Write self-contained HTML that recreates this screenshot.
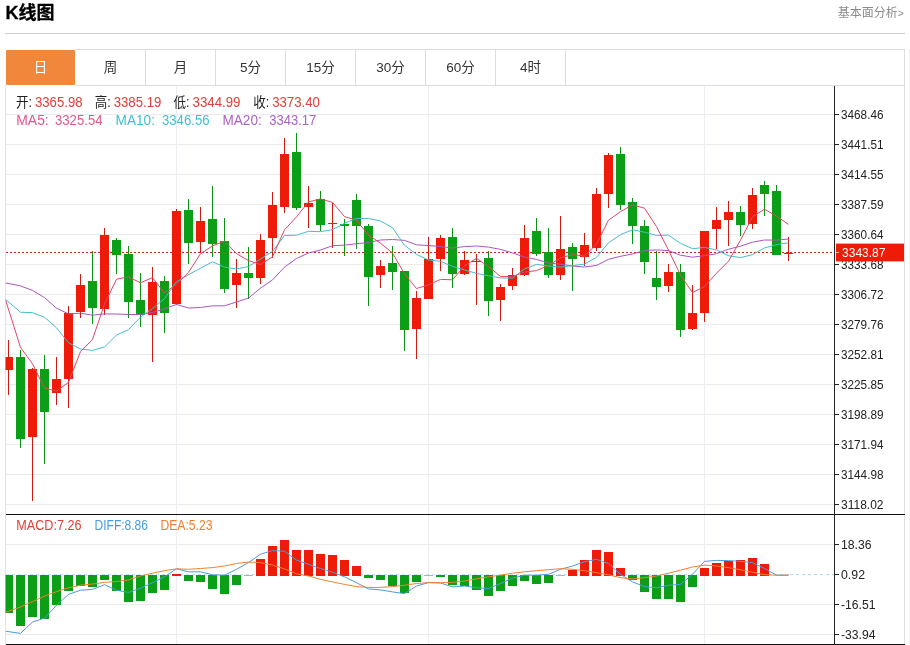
<!DOCTYPE html>
<html lang="zh-CN">
<head>
<meta charset="utf-8">
<title>K线图</title>
<style>
html,body{margin:0;padding:0;background:#fff;}
body{width:910px;height:645px;position:relative;overflow:hidden;font-family:"Liberation Sans","Noto Sans CJK SC",sans-serif;}
.title{position:absolute;left:5.5px;top:0;height:26px;line-height:26px;font-size:18px;font-weight:bold;color:#000;white-space:nowrap;-webkit-text-stroke:0.3px #000;}
.more{position:absolute;right:6px;top:3.5px;height:18px;line-height:18px;font-size:12px;color:#8c8c8c;white-space:nowrap;text-decoration:none;}
.more span{font-size:10.5px;}
.rule{position:absolute;left:5px;top:33px;width:900px;height:1px;background:#cfcfcf;}
.tabs{position:absolute;left:5px;top:49px;width:898px;height:35px;border:1px solid #ddd;margin:0;padding:0;list-style:none;}
.tabs li{float:left;width:69px;height:35px;line-height:36.5px;border-right:1px solid #ddd;text-align:center;font-size:13.5px;color:#333;}
.tabs li.on{background:#f0873a;color:#fff;width:69px;height:35px;line-height:36.5px;margin-right:1px;border-right:0;border-radius:1px;box-shadow:0 0 0 1px #fff;}
.chart{position:absolute;left:0;top:0;}
.chart text{font-family:"Liberation Sans","Noto Sans CJK SC",sans-serif;}
.chart .ax text{font-size:12px;fill:#222;}
.chart .tag{font-size:12.5px;fill:#fff;}
.chart .lg{font-size:14px;}
</style>
</head>
<body>
<div class="title">K线图</div>
<a class="more">基本面分析<span>&gt;</span></a>
<div class="rule"></div>
<ul class="tabs">
<li class="on">日</li><li>周</li><li>月</li><li>5分</li><li>15分</li><li>30分</li><li>60分</li><li>4时</li>
</ul>
<svg class="chart" width="910" height="645" viewBox="0 0 910 645">
<defs><clipPath id="cp"><rect x="5.5" y="86" width="829" height="558"/></clipPath></defs>
<g shape-rendering="crispEdges">
<rect x="5" y="86" width="1" height="559" fill="#e2e2e2"/>
<rect x="904" y="86" width="1" height="559" fill="#e0e0e0"/>
<rect x="909" y="49" width="1" height="596" fill="#f4f4f4"/>
<rect x="6" y="114" width="828" height="1" fill="#ebebeb"/>
<rect x="6" y="144" width="828" height="1" fill="#ebebeb"/>
<rect x="6" y="174" width="828" height="1" fill="#ebebeb"/>
<rect x="6" y="204" width="828" height="1" fill="#ebebeb"/>
<rect x="6" y="234" width="828" height="1" fill="#ebebeb"/>
<rect x="6" y="264" width="828" height="1" fill="#ebebeb"/>
<rect x="6" y="294" width="828" height="1" fill="#ebebeb"/>
<rect x="6" y="324" width="828" height="1" fill="#ebebeb"/>
<rect x="6" y="354" width="828" height="1" fill="#ebebeb"/>
<rect x="6" y="384" width="828" height="1" fill="#ebebeb"/>
<rect x="6" y="414" width="828" height="1" fill="#ebebeb"/>
<rect x="6" y="444" width="828" height="1" fill="#ebebeb"/>
<rect x="6" y="474" width="828" height="1" fill="#ebebeb"/>
<rect x="6" y="504" width="828" height="1" fill="#ebebeb"/>
<rect x="6" y="544" width="828" height="1" fill="#ebebeb"/>
<rect x="6" y="604" width="828" height="1" fill="#ebebeb"/>
<rect x="6" y="634" width="828" height="1" fill="#ebebeb"/>
<rect x="176" y="86" width="1" height="558" fill="#eaedf2"/>
<rect x="428" y="86" width="1" height="558" fill="#eaedf2"/>
<rect x="704" y="86" width="1" height="558" fill="#eaedf2"/>
</g>
<line x1="6" y1="252.5" x2="834" y2="252.5" stroke="#e0201a" stroke-width="1" stroke-dasharray="2 2"/>
<g clip-path="url(#cp)" shape-rendering="crispEdges">
<rect x="8" y="340" width="1" height="55" fill="#cf1a12"/>
<rect x="4" y="357" width="9" height="13" fill="#ee1b09"/>
<rect x="20" y="350" width="1" height="98" fill="#0a9216"/>
<rect x="16" y="357" width="9" height="82" fill="#0a9f17"/>
<rect x="32" y="368" width="1" height="133" fill="#cf1a12"/>
<rect x="28" y="369" width="9" height="68" fill="#ee1b09"/>
<rect x="44" y="355" width="1" height="109" fill="#0a9216"/>
<rect x="40" y="369" width="9" height="43" fill="#0a9f17"/>
<rect x="56" y="357" width="1" height="48" fill="#cf1a12"/>
<rect x="52" y="379" width="9" height="14" fill="#ee1b09"/>
<rect x="68" y="306" width="1" height="102" fill="#cf1a12"/>
<rect x="64" y="313" width="9" height="66" fill="#ee1b09"/>
<rect x="80" y="274" width="1" height="44" fill="#cf1a12"/>
<rect x="76" y="285" width="9" height="27" fill="#ee1b09"/>
<rect x="92" y="251" width="1" height="73" fill="#0a9216"/>
<rect x="88" y="281" width="9" height="27" fill="#0a9f17"/>
<rect x="104" y="228" width="1" height="87" fill="#cf1a12"/>
<rect x="100" y="235" width="9" height="74" fill="#ee1b09"/>
<rect x="116" y="238" width="1" height="36" fill="#0a9216"/>
<rect x="112" y="240" width="9" height="15" fill="#0a9f17"/>
<rect x="128" y="246" width="1" height="72" fill="#0a9216"/>
<rect x="124" y="254" width="9" height="48" fill="#0a9f17"/>
<rect x="140" y="273" width="1" height="54" fill="#0a9216"/>
<rect x="136" y="300" width="9" height="15" fill="#0a9f17"/>
<rect x="152" y="267" width="1" height="95" fill="#cf1a12"/>
<rect x="148" y="282" width="9" height="33" fill="#ee1b09"/>
<rect x="164" y="276" width="1" height="57" fill="#0a9216"/>
<rect x="160" y="281" width="9" height="32" fill="#0a9f17"/>
<rect x="176" y="209" width="1" height="96" fill="#cf1a12"/>
<rect x="172" y="211" width="9" height="93" fill="#ee1b09"/>
<rect x="188" y="199" width="1" height="65" fill="#0a9216"/>
<rect x="184" y="210" width="9" height="33" fill="#0a9f17"/>
<rect x="200" y="207" width="1" height="46" fill="#cf1a12"/>
<rect x="196" y="221" width="9" height="21" fill="#ee1b09"/>
<rect x="212" y="186" width="1" height="71" fill="#0a9216"/>
<rect x="208" y="219" width="9" height="25" fill="#0a9f17"/>
<rect x="224" y="218" width="1" height="75" fill="#0a9216"/>
<rect x="220" y="241" width="9" height="48" fill="#0a9f17"/>
<rect x="236" y="259" width="1" height="49" fill="#cf1a12"/>
<rect x="232" y="273" width="9" height="12" fill="#ee1b09"/>
<rect x="248" y="247" width="1" height="52" fill="#0a9216"/>
<rect x="244" y="273" width="9" height="5" fill="#0a9f17"/>
<rect x="260" y="234" width="1" height="50" fill="#cf1a12"/>
<rect x="256" y="240" width="9" height="38" fill="#ee1b09"/>
<rect x="272" y="192" width="1" height="66" fill="#cf1a12"/>
<rect x="268" y="205" width="9" height="33" fill="#ee1b09"/>
<rect x="284" y="138" width="1" height="75" fill="#cf1a12"/>
<rect x="280" y="154" width="9" height="53" fill="#ee1b09"/>
<rect x="296" y="133" width="1" height="77" fill="#0a9216"/>
<rect x="292" y="152" width="9" height="56" fill="#0a9f17"/>
<rect x="308" y="186" width="1" height="42" fill="#cf1a12"/>
<rect x="304" y="203" width="9" height="4" fill="#ee1b09"/>
<rect x="320" y="191" width="1" height="40" fill="#0a9216"/>
<rect x="316" y="199" width="9" height="26" fill="#0a9f17"/>
<rect x="332" y="203" width="1" height="45" fill="#cf1a12"/>
<rect x="328" y="223" width="9" height="1" fill="#ee1b09"/>
<rect x="344" y="219" width="1" height="37" fill="#0a9216"/>
<rect x="340" y="224" width="9" height="2" fill="#0a9f17"/>
<rect x="356" y="194" width="1" height="55" fill="#0a9216"/>
<rect x="352" y="200" width="9" height="26" fill="#0a9f17"/>
<rect x="368" y="224" width="1" height="82" fill="#0a9216"/>
<rect x="364" y="226" width="9" height="51" fill="#0a9f17"/>
<rect x="380" y="260" width="1" height="28" fill="#cf1a12"/>
<rect x="376" y="266" width="9" height="9" fill="#ee1b09"/>
<rect x="392" y="246" width="1" height="44" fill="#0a9216"/>
<rect x="388" y="263" width="9" height="9" fill="#0a9f17"/>
<rect x="404" y="271" width="1" height="80" fill="#0a9216"/>
<rect x="400" y="271" width="9" height="59" fill="#0a9f17"/>
<rect x="416" y="291" width="1" height="68" fill="#cf1a12"/>
<rect x="412" y="298" width="9" height="31" fill="#ee1b09"/>
<rect x="428" y="237" width="1" height="62" fill="#cf1a12"/>
<rect x="424" y="259" width="9" height="40" fill="#ee1b09"/>
<rect x="440" y="235" width="1" height="36" fill="#cf1a12"/>
<rect x="436" y="238" width="9" height="21" fill="#ee1b09"/>
<rect x="452" y="228" width="1" height="60" fill="#0a9216"/>
<rect x="448" y="237" width="9" height="37" fill="#0a9f17"/>
<rect x="464" y="251" width="1" height="24" fill="#cf1a12"/>
<rect x="460" y="260" width="9" height="14" fill="#ee1b09"/>
<rect x="476" y="254" width="1" height="51" fill="#cf1a12"/>
<rect x="472" y="261" width="9" height="1" fill="#ee1b09"/>
<rect x="488" y="251" width="1" height="65" fill="#0a9216"/>
<rect x="484" y="258" width="9" height="43" fill="#0a9f17"/>
<rect x="500" y="284" width="1" height="37" fill="#cf1a12"/>
<rect x="496" y="287" width="9" height="13" fill="#ee1b09"/>
<rect x="512" y="268" width="1" height="22" fill="#cf1a12"/>
<rect x="508" y="275" width="9" height="11" fill="#ee1b09"/>
<rect x="524" y="225" width="1" height="51" fill="#cf1a12"/>
<rect x="520" y="238" width="9" height="37" fill="#ee1b09"/>
<rect x="536" y="218" width="1" height="38" fill="#0a9216"/>
<rect x="532" y="231" width="9" height="23" fill="#0a9f17"/>
<rect x="548" y="228" width="1" height="50" fill="#0a9216"/>
<rect x="544" y="252" width="9" height="23" fill="#0a9f17"/>
<rect x="560" y="216" width="1" height="64" fill="#cf1a12"/>
<rect x="556" y="249" width="9" height="26" fill="#ee1b09"/>
<rect x="572" y="243" width="1" height="48" fill="#0a9216"/>
<rect x="568" y="247" width="9" height="12" fill="#0a9f17"/>
<rect x="584" y="233" width="1" height="33" fill="#cf1a12"/>
<rect x="580" y="245" width="9" height="12" fill="#ee1b09"/>
<rect x="596" y="188" width="1" height="63" fill="#cf1a12"/>
<rect x="592" y="194" width="9" height="54" fill="#ee1b09"/>
<rect x="608" y="153" width="1" height="55" fill="#cf1a12"/>
<rect x="604" y="155" width="9" height="39" fill="#ee1b09"/>
<rect x="620" y="147" width="1" height="63" fill="#0a9216"/>
<rect x="616" y="154" width="9" height="51" fill="#0a9f17"/>
<rect x="632" y="198" width="1" height="46" fill="#0a9216"/>
<rect x="628" y="202" width="9" height="24" fill="#0a9f17"/>
<rect x="644" y="220" width="1" height="54" fill="#0a9216"/>
<rect x="640" y="226" width="9" height="36" fill="#0a9f17"/>
<rect x="656" y="251" width="1" height="49" fill="#0a9216"/>
<rect x="652" y="278" width="9" height="9" fill="#0a9f17"/>
<rect x="668" y="264" width="1" height="28" fill="#cf1a12"/>
<rect x="664" y="272" width="9" height="14" fill="#ee1b09"/>
<rect x="680" y="264" width="1" height="73" fill="#0a9216"/>
<rect x="676" y="272" width="9" height="58" fill="#0a9f17"/>
<rect x="692" y="285" width="1" height="45" fill="#cf1a12"/>
<rect x="688" y="313" width="9" height="16" fill="#ee1b09"/>
<rect x="704" y="231" width="1" height="91" fill="#cf1a12"/>
<rect x="700" y="231" width="9" height="82" fill="#ee1b09"/>
<rect x="716" y="207" width="1" height="42" fill="#cf1a12"/>
<rect x="712" y="220" width="9" height="9" fill="#ee1b09"/>
<rect x="728" y="201" width="1" height="45" fill="#cf1a12"/>
<rect x="724" y="212" width="9" height="8" fill="#ee1b09"/>
<rect x="740" y="206" width="1" height="30" fill="#0a9216"/>
<rect x="736" y="212" width="9" height="13" fill="#0a9f17"/>
<rect x="752" y="188" width="1" height="41" fill="#cf1a12"/>
<rect x="748" y="195" width="9" height="29" fill="#ee1b09"/>
<rect x="764" y="181" width="1" height="35" fill="#0a9216"/>
<rect x="760" y="185" width="9" height="9" fill="#0a9f17"/>
<rect x="776" y="185" width="1" height="70" fill="#0a9216"/>
<rect x="772" y="191" width="9" height="64" fill="#0a9f17"/>
<rect x="788" y="237" width="1" height="24" fill="#cf1a12"/>
<rect x="784" y="253" width="9" height="1" fill="#ee1b09"/>
</g>
<line x1="6" y1="574.6" x2="789" y2="574.6" stroke="#a9d8ea" stroke-width="1" stroke-dasharray="3 3" opacity="0.7"/>
<line x1="790" y1="574.6" x2="834" y2="574.6" stroke="#a9d8ea" stroke-width="1" stroke-dasharray="3 3"/>
<g clip-path="url(#cp)" shape-rendering="crispEdges">
<rect x="4" y="575" width="9" height="38" fill="#0a9f17"/>
<rect x="16" y="575" width="9" height="51" fill="#0a9f17"/>
<rect x="28" y="575" width="9" height="42" fill="#0a9f17"/>
<rect x="40" y="575" width="9" height="44" fill="#0a9f17"/>
<rect x="52" y="575" width="9" height="30" fill="#0a9f17"/>
<rect x="64" y="575" width="9" height="16" fill="#0a9f17"/>
<rect x="76" y="575" width="9" height="11" fill="#0a9f17"/>
<rect x="88" y="575" width="9" height="12" fill="#0a9f17"/>
<rect x="100" y="575" width="9" height="5" fill="#0a9f17"/>
<rect x="112" y="575" width="9" height="16" fill="#0a9f17"/>
<rect x="124" y="575" width="9" height="27" fill="#0a9f17"/>
<rect x="136" y="575" width="9" height="26" fill="#0a9f17"/>
<rect x="148" y="575" width="9" height="18" fill="#0a9f17"/>
<rect x="160" y="575" width="9" height="15" fill="#0a9f17"/>
<rect x="172" y="574" width="9" height="2" fill="#ee1b09"/>
<rect x="184" y="575" width="9" height="6" fill="#0a9f17"/>
<rect x="196" y="575" width="9" height="7" fill="#0a9f17"/>
<rect x="208" y="575" width="9" height="14" fill="#0a9f17"/>
<rect x="220" y="575" width="9" height="19" fill="#0a9f17"/>
<rect x="232" y="575" width="9" height="10" fill="#0a9f17"/>
<rect x="244" y="575" width="9" height="1" fill="#9a9a9a" opacity="0.75"/>
<rect x="256" y="559" width="9" height="17" fill="#ee1b09"/>
<rect x="268" y="546" width="9" height="30" fill="#ee1b09"/>
<rect x="280" y="540" width="9" height="36" fill="#ee1b09"/>
<rect x="292" y="550" width="9" height="26" fill="#ee1b09"/>
<rect x="304" y="550" width="9" height="26" fill="#ee1b09"/>
<rect x="316" y="554" width="9" height="22" fill="#ee1b09"/>
<rect x="328" y="555" width="9" height="21" fill="#ee1b09"/>
<rect x="340" y="560" width="9" height="16" fill="#ee1b09"/>
<rect x="352" y="566" width="9" height="10" fill="#ee1b09"/>
<rect x="364" y="575" width="9" height="3" fill="#0a9f17"/>
<rect x="376" y="575" width="9" height="5" fill="#0a9f17"/>
<rect x="388" y="575" width="9" height="11" fill="#0a9f17"/>
<rect x="400" y="575" width="9" height="18" fill="#0a9f17"/>
<rect x="412" y="575" width="9" height="7" fill="#0a9f17"/>
<rect x="424" y="575" width="9" height="1" fill="#9a9a9a" opacity="0.75"/>
<rect x="436" y="575" width="9" height="2" fill="#0a9f17"/>
<rect x="448" y="575" width="9" height="10" fill="#0a9f17"/>
<rect x="460" y="575" width="9" height="11" fill="#0a9f17"/>
<rect x="472" y="575" width="9" height="15" fill="#0a9f17"/>
<rect x="484" y="575" width="9" height="21" fill="#0a9f17"/>
<rect x="496" y="575" width="9" height="16" fill="#0a9f17"/>
<rect x="508" y="575" width="9" height="11" fill="#0a9f17"/>
<rect x="520" y="575" width="9" height="6" fill="#0a9f17"/>
<rect x="532" y="575" width="9" height="9" fill="#0a9f17"/>
<rect x="544" y="575" width="9" height="8" fill="#0a9f17"/>
<rect x="556" y="575" width="9" height="1" fill="#9a9a9a" opacity="0.75"/>
<rect x="568" y="570" width="9" height="6" fill="#ee1b09"/>
<rect x="580" y="560" width="9" height="16" fill="#ee1b09"/>
<rect x="592" y="550" width="9" height="26" fill="#ee1b09"/>
<rect x="604" y="552" width="9" height="24" fill="#ee1b09"/>
<rect x="616" y="568" width="9" height="8" fill="#ee1b09"/>
<rect x="628" y="575" width="9" height="5" fill="#0a9f17"/>
<rect x="640" y="575" width="9" height="17" fill="#0a9f17"/>
<rect x="652" y="575" width="9" height="24" fill="#0a9f17"/>
<rect x="664" y="575" width="9" height="24" fill="#0a9f17"/>
<rect x="676" y="575" width="9" height="27" fill="#0a9f17"/>
<rect x="688" y="575" width="9" height="12" fill="#0a9f17"/>
<rect x="700" y="568" width="9" height="8" fill="#ee1b09"/>
<rect x="712" y="563" width="9" height="13" fill="#ee1b09"/>
<rect x="724" y="561" width="9" height="15" fill="#ee1b09"/>
<rect x="736" y="560" width="9" height="16" fill="#ee1b09"/>
<rect x="748" y="558" width="9" height="18" fill="#ee1b09"/>
<rect x="760" y="564" width="9" height="12" fill="#ee1b09"/>
</g>
<g clip-path="url(#cp)">
<polyline points="5.5,282.9 20.5,285.9 32.5,290.4 44.5,297.6 56.5,308.2 68.5,313.9 80.5,313.2 92.5,315.2 104.5,313.9 116.5,314.0 128.5,314.5 140.5,314.5 152.5,312.5 164.5,308.8 176.5,304.5 188.5,308.0 200.5,307.5 212.5,305.8 224.5,305.8 236.5,302.0 248.5,298.1 260.5,288.1 272.5,279.9 284.5,267.1 296.5,258.5 308.5,253.0 320.5,250.0 332.5,245.7 344.5,245.2 356.5,243.7 368.5,242.5 380.5,240.0 392.5,239.5 404.5,240.4 416.5,244.8 428.5,245.6 440.5,246.5 452.5,248.0 464.5,246.6 476.5,246.0 488.5,247.1 500.5,249.4 512.5,252.9 524.5,257.1 536.5,259.4 548.5,263.0 560.5,264.2 572.5,266.0 584.5,267.0 596.5,265.4 608.5,259.3 620.5,256.3 632.5,254.0 644.5,250.5 656.5,249.9 668.5,250.6 680.5,255.2 692.5,257.2 704.5,255.7 716.5,253.7 728.5,249.2 740.5,246.2 752.5,242.2 764.5,240.0 776.5,240.1 788.5,239.0" fill="none" stroke="#ab55c0" stroke-width="1" stroke-linejoin="round" />
<polyline points="5.5,299.3 20.5,312.2 32.5,312.7 44.5,317.2 56.5,327.8 68.5,342.8 80.5,349.0 92.5,350.4 104.5,347.0 116.5,335.1 128.5,329.6 140.5,317.2 152.5,308.5 164.5,298.6 176.5,281.7 188.5,274.7 200.5,268.2 212.5,261.8 224.5,267.1 236.5,268.9 248.5,266.5 260.5,259.1 272.5,251.4 284.5,235.5 296.5,235.2 308.5,231.3 320.5,231.7 332.5,229.6 344.5,223.3 356.5,218.5 368.5,218.4 380.5,221.0 392.5,227.7 404.5,245.3 416.5,254.4 428.5,260.0 440.5,261.3 452.5,266.4 464.5,269.9 476.5,273.4 488.5,275.8 500.5,277.9 512.5,278.2 524.5,268.9 536.5,264.4 548.5,266.0 560.5,267.1 572.5,265.6 584.5,264.1 596.5,257.4 608.5,242.8 620.5,234.7 632.5,229.8 644.5,232.2 656.5,235.4 668.5,235.2 680.5,243.3 692.5,248.7 704.5,247.4 716.5,250.0 728.5,255.7 740.5,257.7 752.5,254.6 764.5,247.9 776.5,244.7 788.5,242.8" fill="none" stroke="#45bccb" stroke-width="1" stroke-linejoin="round" />
<polyline points="5.5,299.8 20.5,347.4 32.5,363.8 44.5,388.0 56.5,391.1 68.5,382.3 80.5,351.6 92.5,339.4 104.5,304.1 116.5,279.2 128.5,276.9 140.5,282.8 152.5,277.6 164.5,293.1 176.5,284.2 188.5,272.4 200.5,253.7 212.5,245.9 224.5,241.1 236.5,253.6 248.5,260.6 260.5,264.5 272.5,256.8 284.5,229.9 296.5,216.8 308.5,201.9 320.5,198.9 332.5,202.4 344.5,216.6 356.5,220.3 368.5,235.0 380.5,243.2 392.5,253.0 404.5,273.9 416.5,288.5 428.5,284.9 440.5,279.4 452.5,279.8 464.5,265.8 476.5,258.3 488.5,266.6 500.5,276.4 512.5,276.6 524.5,272.1 536.5,270.6 548.5,265.4 560.5,257.9 572.5,254.6 584.5,256.1 596.5,244.2 608.5,220.2 620.5,211.6 632.5,204.9 644.5,208.2 656.5,226.7 668.5,250.1 680.5,275.1 692.5,292.6 704.5,286.5 716.5,273.2 728.5,261.2 740.5,240.2 752.5,216.7 764.5,209.2 776.5,216.2 788.5,224.4" fill="none" stroke="#de4769" stroke-width="1" stroke-linejoin="round" />
<polyline points="5.5,631.2 20.5,633.4 32.5,622.0 44.5,618.2 56.5,605.3 68.5,594.4 80.5,590.2 92.5,589.4 104.5,584.7 116.5,590.2 128.5,592.4 140.5,588.2 152.5,582.7 164.5,576.8 176.5,568.8 188.5,571.8 200.5,571.8 212.5,574.8 224.5,575.2 236.5,569.3 248.5,562.6 260.5,554.2 272.5,550.6 284.5,551.2 296.5,560.1 308.5,564.3 320.5,568.5 332.5,572.2 344.5,576.8 356.5,582.7 368.5,588.9 380.5,589.9 392.5,591.9 404.5,593.6 416.5,586.0 428.5,582.6 440.5,583.0 452.5,586.9 464.5,586.0 476.5,587.7 488.5,588.6 500.5,583.5 512.5,578.2 524.5,575.2 536.5,575.2 548.5,574.3 560.5,569.3 572.5,566.0 584.5,561.8 596.5,559.3 608.5,563.5 620.5,574.3 632.5,581.9 644.5,586.6 656.5,587.7 668.5,585.2 680.5,584.4 692.5,574.3 704.5,561.4 716.5,560.4 728.5,560.6 740.5,561.3 752.5,562.6 764.5,568.5 776.5,575.2 788.5,575.2" fill="none" stroke="#4a9be0" stroke-width="1" stroke-linejoin="round" />
<polyline points="5.5,612.3 20.5,607.0 32.5,601.6 44.5,596.1 56.5,591.6 68.5,587.9 80.5,585.2 92.5,584.0 104.5,582.4 116.5,581.5 128.5,579.9 140.5,576.0 152.5,573.2 164.5,570.7 176.5,568.8 188.5,569.3 200.5,568.5 212.5,567.6 224.5,566.0 236.5,563.5 248.5,562.1 260.5,562.6 272.5,565.1 284.5,568.9 296.5,573.8 308.5,576.0 320.5,579.4 332.5,581.9 344.5,584.4 356.5,586.6 368.5,587.4 380.5,587.4 392.5,586.6 404.5,585.2 416.5,583.5 428.5,582.6 440.5,582.7 452.5,582.4 464.5,581.0 476.5,578.9 488.5,576.8 500.5,575.2 512.5,573.2 524.5,571.8 536.5,570.7 548.5,569.7 560.5,568.7 572.5,569.3 584.5,570.7 596.5,572.7 608.5,574.8 620.5,577.7 632.5,578.9 644.5,577.7 656.5,576.0 668.5,573.2 680.5,570.2 692.5,567.0 704.5,565.1 716.5,566.0 728.5,567.6 740.5,569.8 752.5,572.2 764.5,574.7 776.5,575.2 788.5,575.2" fill="none" stroke="#f08030" stroke-width="1" stroke-linejoin="round" />
</g>
<g shape-rendering="crispEdges">
<rect x="6" y="514" width="899" height="1" fill="#111"/>
<rect x="6" y="644" width="899" height="1" fill="#111"/>
<rect x="834" y="86" width="1" height="559" fill="#222"/>
<rect x="835" y="114" width="4" height="1" fill="#222"/>
<rect x="835" y="144" width="4" height="1" fill="#222"/>
<rect x="835" y="174" width="4" height="1" fill="#222"/>
<rect x="835" y="204" width="4" height="1" fill="#222"/>
<rect x="835" y="234" width="4" height="1" fill="#222"/>
<rect x="835" y="264" width="4" height="1" fill="#222"/>
<rect x="835" y="294" width="4" height="1" fill="#222"/>
<rect x="835" y="324" width="4" height="1" fill="#222"/>
<rect x="835" y="354" width="4" height="1" fill="#222"/>
<rect x="835" y="384" width="4" height="1" fill="#222"/>
<rect x="835" y="414" width="4" height="1" fill="#222"/>
<rect x="835" y="444" width="4" height="1" fill="#222"/>
<rect x="835" y="474" width="4" height="1" fill="#222"/>
<rect x="835" y="504" width="4" height="1" fill="#222"/>
<rect x="835" y="544" width="4" height="1" fill="#222"/>
<rect x="835" y="574" width="4" height="1" fill="#222"/>
<rect x="835" y="604" width="4" height="1" fill="#222"/>
<rect x="835" y="634" width="4" height="1" fill="#222"/>
</g>
<g class="ax">
<text x="841" y="118.8" textLength="42.5" lengthAdjust="spacingAndGlyphs">3468.46</text>
<text x="841" y="148.8" textLength="42.5" lengthAdjust="spacingAndGlyphs">3441.51</text>
<text x="841" y="178.8" textLength="42.5" lengthAdjust="spacingAndGlyphs">3414.55</text>
<text x="841" y="208.8" textLength="42.5" lengthAdjust="spacingAndGlyphs">3387.59</text>
<text x="841" y="238.8" textLength="42.5" lengthAdjust="spacingAndGlyphs">3360.64</text>
<text x="841" y="268.8" textLength="42.5" lengthAdjust="spacingAndGlyphs">3333.68</text>
<text x="841" y="298.8" textLength="42.5" lengthAdjust="spacingAndGlyphs">3306.72</text>
<text x="841" y="328.8" textLength="42.5" lengthAdjust="spacingAndGlyphs">3279.76</text>
<text x="841" y="358.8" textLength="42.5" lengthAdjust="spacingAndGlyphs">3252.81</text>
<text x="841" y="388.8" textLength="42.5" lengthAdjust="spacingAndGlyphs">3225.85</text>
<text x="841" y="418.8" textLength="42.5" lengthAdjust="spacingAndGlyphs">3198.89</text>
<text x="841" y="448.8" textLength="42.5" lengthAdjust="spacingAndGlyphs">3171.94</text>
<text x="841" y="478.8" textLength="42.5" lengthAdjust="spacingAndGlyphs">3144.98</text>
<text x="841" y="508.8" textLength="42.5" lengthAdjust="spacingAndGlyphs">3118.02</text>
<text x="841" y="548.8" textLength="30.5" lengthAdjust="spacingAndGlyphs">18.36</text>
<text x="841" y="578.8" textLength="24" lengthAdjust="spacingAndGlyphs">0.92</text>
<text x="841" y="608.8" textLength="34.5" lengthAdjust="spacingAndGlyphs">-16.51</text>
<text x="841" y="638.8" textLength="34.5" lengthAdjust="spacingAndGlyphs">-33.94</text>
</g>
<rect x="836" y="243.6" width="68" height="17.8" fill="#ee1b09"/>
<rect x="836" y="252" width="3" height="1" fill="#f7b0a8" shape-rendering="crispEdges"/>
<text class="tag" x="842" y="256.8" textLength="43.5" lengthAdjust="spacingAndGlyphs">3343.87</text>
<text class="lg" x="16.00" y="106.8" textLength="16.00" lengthAdjust="spacingAndGlyphs" fill="#222">开:</text>
<text class="lg" x="35.00" y="106.8" textLength="47.50" lengthAdjust="spacingAndGlyphs" fill="#e0403a">3365.98</text>
<text class="lg" x="94.75" y="106.8" textLength="16.00" lengthAdjust="spacingAndGlyphs" fill="#222">高:</text>
<text class="lg" x="113.75" y="106.8" textLength="47.50" lengthAdjust="spacingAndGlyphs" fill="#e0403a">3385.19</text>
<text class="lg" x="173.50" y="106.8" textLength="16.00" lengthAdjust="spacingAndGlyphs" fill="#222">低:</text>
<text class="lg" x="192.50" y="106.8" textLength="48.00" lengthAdjust="spacingAndGlyphs" fill="#e0403a">3344.99</text>
<text class="lg" x="253.25" y="106.8" textLength="16.00" lengthAdjust="spacingAndGlyphs" fill="#222">收:</text>
<text class="lg" x="272.25" y="106.8" textLength="47.50" lengthAdjust="spacingAndGlyphs" fill="#e0403a">3373.40</text>
<text class="lg" x="16.25" y="124.8" textLength="32.50" lengthAdjust="spacingAndGlyphs" fill="#e2588c">MA5:</text>
<text class="lg" x="55.00" y="124.8" textLength="47.50" lengthAdjust="spacingAndGlyphs" fill="#e2588c">3325.54</text>
<text class="lg" x="115.50" y="124.8" textLength="39.50" lengthAdjust="spacingAndGlyphs" fill="#41bfd0">MA10:</text>
<text class="lg" x="162.00" y="124.8" textLength="47.50" lengthAdjust="spacingAndGlyphs" fill="#41bfd0">3346.56</text>
<text class="lg" x="222.50" y="124.8" textLength="39.25" lengthAdjust="spacingAndGlyphs" fill="#ac62c4">MA20:</text>
<text class="lg" x="269.25" y="124.8" textLength="47.00" lengthAdjust="spacingAndGlyphs" fill="#ac62c4">3343.17</text>
<text class="lg" x="16.25" y="530.2" textLength="65.25" lengthAdjust="spacingAndGlyphs" fill="#e0403a">MACD:7.26</text>
<text class="lg" x="94.50" y="530.2" textLength="53.50" lengthAdjust="spacingAndGlyphs" fill="#4a9be0">DIFF:8.86</text>
<text class="lg" x="160.50" y="530.2" textLength="52.00" lengthAdjust="spacingAndGlyphs" fill="#f08030">DEA:5.23</text>
</svg>
</body>
</html>
